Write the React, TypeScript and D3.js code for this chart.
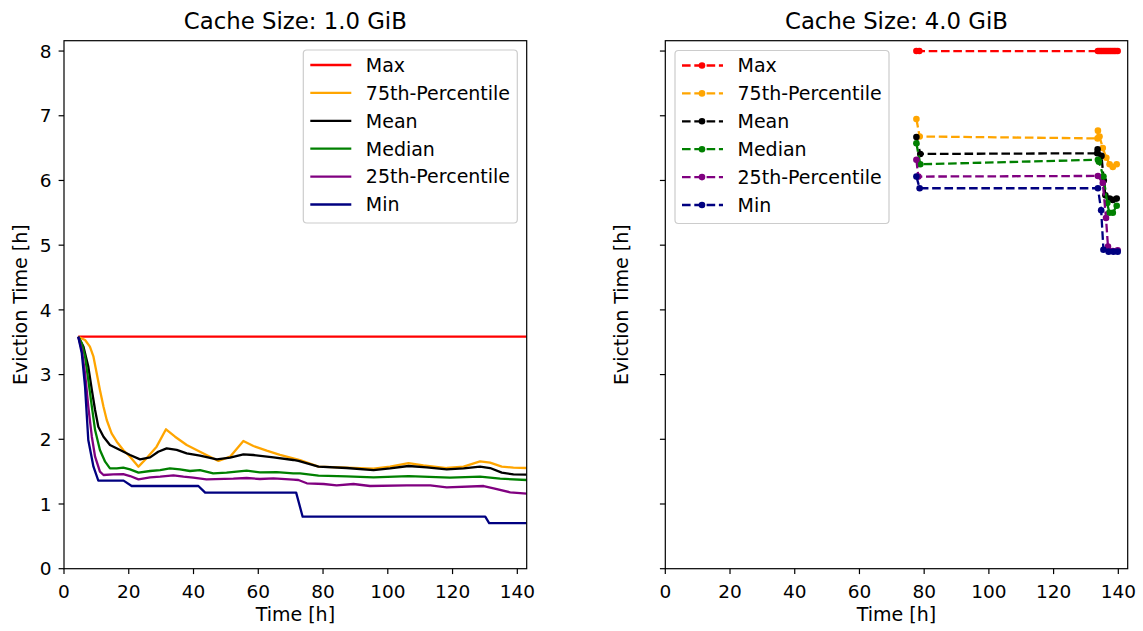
import React from "react";
import * as d3 from "d3";

type Pt = [number, number];

// ---------- Data: Cache Size 1.0 GiB ----------
const leftMax: Pt[] = [[4.4, 3.586], [142.9, 3.586]];
const left75: Pt[] = [[4.4,3.586],[6.5,3.535],[8.0,3.432],[9.1,3.277],[10.1,3.02],[11.1,2.762],[12.2,2.504],[13.2,2.298],[14.7,2.092],[16.3,1.963],[18.3,1.835],[20.4,1.731],[23.0,1.577],[25.5,1.706],[28.6,1.886],[31.5,2.154],[34.3,2.04],[37.9,1.912],[42.0,1.808],[47.7,1.665],[51.3,1.731],[55.4,1.974],[58.5,1.896],[62.6,1.824],[66.7,1.76],[70.8,1.706],[72.9,1.68],[78.6,1.577],[87.3,1.561],[95.6,1.546],[100.7,1.577],[106.4,1.633],[111.0,1.597],[118.2,1.556],[123.4,1.577],[128.5,1.659],[131.6,1.638],[135.2,1.577],[138.8,1.561],[142.9,1.556]];
const leftMean: Pt[] = [[4.4,3.586],[6.0,3.432],[7.5,3.123],[8.6,2.762],[9.6,2.453],[10.6,2.195],[12.2,2.04],[14.2,1.912],[17.3,1.835],[20.4,1.757],[23.5,1.69],[26.6,1.721],[29.1,1.808],[31.7,1.86],[34.8,1.835],[37.9,1.783],[42.0,1.747],[47.2,1.69],[51.3,1.716],[55.4,1.768],[58.5,1.757],[64.7,1.721],[70.8,1.68],[72.4,1.665],[78.6,1.577],[87.3,1.556],[95.6,1.525],[100.7,1.551],[106.4,1.587],[112.0,1.566],[118.2,1.536],[123.4,1.551],[128.5,1.577],[131.6,1.556],[135.2,1.484],[138.8,1.458],[142.9,1.453]];
const leftMedian: Pt[] = [[4.4,3.586],[5.5,3.483],[6.5,3.277],[7.5,2.917],[8.6,2.504],[9.6,2.143],[11.1,1.835],[12.7,1.654],[14.2,1.551],[16.3,1.551],[18.3,1.561],[20.4,1.536],[23.0,1.484],[26.6,1.51],[29.7,1.525],[32.7,1.551],[35.8,1.536],[38.9,1.51],[42.0,1.525],[46.1,1.474],[50.2,1.484],[56.4,1.515],[60.5,1.489],[65.7,1.494],[70.8,1.474],[72.9,1.474],[78.6,1.438],[87.3,1.427],[95.6,1.412],[106.4,1.432],[119.2,1.407],[128.5,1.422],[134.7,1.392],[142.9,1.371]];
const left25: Pt[] = [[4.4,3.586],[5.5,3.38],[6.5,3.02],[7.5,2.504],[8.6,2.04],[9.6,1.731],[11.1,1.499],[12.2,1.448],[15.2,1.458],[18.3,1.463],[20.4,1.432],[23.0,1.381],[26.6,1.412],[29.7,1.422],[33.8,1.443],[36.9,1.422],[39.9,1.407],[44.0,1.381],[52.3,1.391],[56.4,1.402],[60.5,1.386],[64.7,1.396],[70.8,1.376],[72.4,1.371],[75.0,1.32],[80.2,1.309],[84.2,1.288],[89.4,1.309],[94.5,1.278],[105.9,1.288],[113.1,1.288],[118.2,1.257],[129.6,1.278],[132.7,1.242],[137.8,1.18],[142.9,1.159]];
const leftMin: Pt[] = [[4.4,3.586],[5.5,3.329],[6.5,2.814],[7.5,1.989],[9.1,1.577],[10.6,1.361],[18.4,1.361],[20.9,1.278],[41.5,1.278],[43.6,1.175],[71.7,1.175],[73.7,0.804],[130.1,0.804],[131.3,0.705],[142.9,0.705]];

// ---------- Data: Cache Size 4.0 GiB ----------
const rightMax: Pt[] = [[77.6,8.0],[78.5,8.0],[133.7,8.0],[134.2,8.0],[134.7,8.0],[135.2,8.0],[135.7,8.0],[136.2,8.0],[136.7,8.0],[137.2,8.0],[137.7,8.0],[138.2,8.0],[138.7,8.0],[139.2,8.0],[139.8,8.0]];
const right75: Pt[] = [[77.6,6.95],[78.6,6.68],[133.6,6.65],[133.7,6.77],[134.2,6.68],[135.2,6.5],[136.3,6.35],[137.3,6.25],[138.3,6.21],[139.5,6.25]];
const rightMean: Pt[] = [[77.6,6.67],[78.8,6.41],[133.5,6.42],[133.6,6.48],[134.8,6.38],[135.5,6.0],[136.0,5.77],[137.3,5.72],[138.3,5.7],[139.5,5.72]];
const rightMedian: Pt[] = [[77.6,6.575],[78.8,6.25],[133.7,6.32],[134.0,6.29],[135.4,6.06],[136.6,5.65],[137.2,5.5],[138.3,5.5],[139.5,5.61]];
const right25: Pt[] = [[77.6,6.32],[78.2,6.06],[133.7,6.07],[135.2,5.96],[136.2,5.42],[136.8,4.98],[138.3,4.91],[139.8,4.92]];
const rightMin: Pt[] = [[77.6,6.06],[78.6,5.88],[133.7,5.88],[134.7,5.54],[135.4,4.93],[137.0,4.9],[138.5,4.9],[139.8,4.9]];

const seriesNames = ["Max", "75th-Percentile", "Mean", "Median", "25th-Percentile", "Min"];
const seriesColors = ["#ff0000", "#ffa500", "#000000", "#008000", "#800080", "#000080"];
const leftSeries = [leftMax, left75, leftMean, leftMedian, left25, leftMin];
const rightSeries = [rightMax, right75, rightMean, rightMedian, right25, rightMin];

const titles = ["Cache Size: 1.0 GiB", "Cache Size: 4.0 GiB"];
const xTicks = [0, 20, 40, 60, 80, 100, 120, 140];
const yTicks = [0, 1, 2, 3, 4, 5, 6, 7, 8];
const xDomain: [number, number] = [0, 142.9];
const yDomain: [number, number] = [0, 8.16];

const FONT = "DejaVu Sans, sans-serif";
const TICK_FS = 18.5;
const LABEL_FS = 19;
const TITLE_FS = 22.8;
const LEGEND_FS = 19;

interface PanelProps {
  left: number;
  right: number;
  series: Pt[][];
  title: string;
  showYLabels: boolean;
  dashed: boolean;
  legendX: number;
  legendY: number;
}

const TOP = 40.7;
const BOTTOM = 568.7;

function Panel({ left, right, series, title, showYLabels, dashed, legendX, legendY }: PanelProps) {
  const x = d3.scaleLinear().domain(xDomain).range([left, right]);
  const y = d3.scaleLinear().domain(yDomain).range([BOTTOM, TOP]);
  const line = d3.line<Pt>().x((d) => x(d[0])).y((d) => y(d[1]));
  const cx = (left + right) / 2;
  const cy = (TOP + BOTTOM) / 2;
  const lw = 2.3;
  const dash = dashed ? "8.6,3.7" : undefined;
  const legW = 214;
  const legH = 173;
  const rowH = 27.9;
  return (
    <g>
      <defs>
        <clipPath id={`clip-${left}`}>
          <rect x={left} y={TOP} width={right - left} height={BOTTOM - TOP} />
        </clipPath>
      </defs>
      <g clipPath={`url(#clip-${left})`}>
        {series.map((s, i) => (
          <g key={i}>
            <path d={line(s) || ""} fill="none" stroke={seriesColors[i]} strokeWidth={lw} strokeDasharray={dash} strokeLinejoin="round" />
            {dashed && s.map((p, j) => (
              <circle key={j} cx={x(p[0])} cy={y(p[1])} r={3.3} fill={seriesColors[i]} />
            ))}
          </g>
        ))}
      </g>
      {/* frame */}
      <rect x={left} y={TOP} width={right - left} height={BOTTOM - TOP} fill="none" stroke="#000" strokeWidth={1.2} />
      {/* x ticks */}
      {xTicks.map((t) => (
        <g key={t}>
          <line x1={x(t)} x2={x(t)} y1={BOTTOM} y2={BOTTOM + 5.4} stroke="#000" strokeWidth={1.2} />
          <text x={x(t)} y={598} textAnchor="middle" fontFamily={FONT} fontSize={TICK_FS} fill="#000">{t}</text>
        </g>
      ))}
      {/* y ticks */}
      {yTicks.map((t) => (
        <g key={t}>
          <line x1={left - 5.4} x2={left} y1={y(t)} y2={y(t)} stroke="#000" strokeWidth={1.2} />
          {showYLabels && (
            <text x={left - 12.5} y={y(t)} dy="0.36em" textAnchor="end" fontFamily={FONT} fontSize={TICK_FS} fill="#000">{t}</text>
          )}
        </g>
      ))}
      <text x={cx} y={621} textAnchor="middle" fontFamily={FONT} fontSize={LABEL_FS} fill="#000">Time [h]</text>
      <text transform={`translate(${left - 37},${cy}) rotate(-90)`} textAnchor="middle" fontFamily={FONT} fontSize={LABEL_FS} fill="#000">Eviction Time [h]</text>
      <text x={cx} y={29} textAnchor="middle" fontFamily={FONT} fontSize={TITLE_FS} fill="#000">{title}</text>
      {/* legend */}
      <g>
        <rect x={legendX} y={legendY} width={legW} height={legH} rx={3.5} fill="#fff" fillOpacity={0.8} stroke="#cccccc" strokeWidth={1.2} />
        {seriesNames.map((n, i) => {
          const ry = legendY + 15 + i * rowH;
          return (
            <g key={n}>
              <line x1={legendX + 7} x2={legendX + 48} y1={ry} y2={ry} stroke={seriesColors[i]} strokeWidth={lw} strokeDasharray={dash} />
              {dashed && <circle cx={legendX + 27} cy={ry} r={3.3} fill={seriesColors[i]} />}
              <text x={legendX + 62.5} y={ry} dy="0.36em" fontFamily={FONT} fontSize={LEGEND_FS} fill="#000">{n}</text>
            </g>
          );
        })}
      </g>
    </g>
  );
}

export default function App() {
  return (
    <svg width={1143} height={631} style={{ position: "absolute", left: 0, top: 0, background: "#fff" }}>
      <rect x={0} y={0} width={1143} height={631} fill="#fff" />
      <Panel left={64} right={526.7} series={leftSeries} title={titles[0]} showYLabels={true} dashed={false} legendX={303.3} legendY={50} />
      <Panel left={665.3} right={1127.7} series={rightSeries} title={titles[1]} showYLabels={false} dashed={true} legendX={675} legendY={50.5} />
    </svg>
  );
}
